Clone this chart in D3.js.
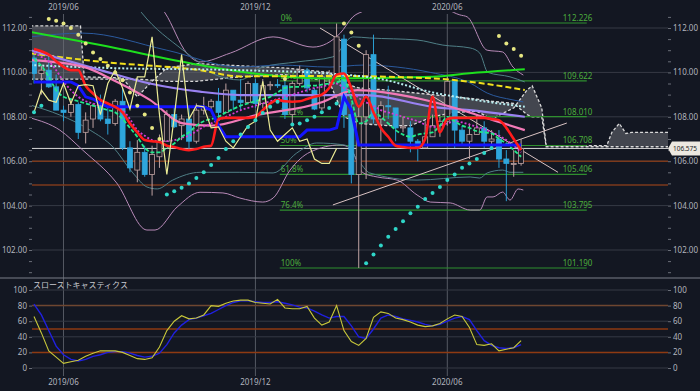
<!DOCTYPE html>
<html>
<head>
<meta charset="utf-8">
<script src="https://cdn.jsdelivr.net/npm/d3@7"></script>
<style>
  html, body { margin: 0; padding: 0; background: #131722; }
  svg { display: block; }
  text { font-family: "Noto Sans", "DejaVu Sans", sans-serif; }
</style>
</head>
<body>
<div id="chart"></div>
<script>
// weekly candles, first week 2019-05-06
const startWeek = '2019-05-06';
const opens = [110.65,109.95,110.1,109.35,108.3,108.2,108.55,107.3,107.9,108.5,107.9,107.7,108.7,106.6,105.6,106.4,105.4,106.2,106.9,108.1,107.6,107.9,106.9,108.3,108.45,108.7,108.2,109.2,108.75,108.65,109.5,108.6,109.4,109.45,109.4,108.1,109.5,110.1,109.2,108.4,109.8,109.8,111.5,108.1,105.4,108.0,110.8,107.9,108.5,108.4,107.5,107.5,106.9,106.6,107.1,107.6,107.8,109.6,107.4,106.9,107.2,107.5,106.9,107.0,106.1,105.9,105.9];
const highs = [110.9,110.3,110.7,109.9,108.5,108.8,108.65,108.2,108.6,109.0,108.4,108.8,109.3,106.9,106.95,106.7,106.7,107.2,108.3,108.5,108.1,108.5,108.6,108.9,108.8,109.3,109.5,109.2,109.7,109.6,109.7,109.7,109.6,109.7,109.7,109.6,110.3,110.2,109.3,110.0,110.1,112.2,111.7,108.6,108.5,111.0,111.7,108.7,109.4,108.4,108.0,107.8,107.0,107.8,108.1,108.0,109.85,109.7,107.6,107.7,108.1,107.8,107.4,107.4,106.5,106.5,107.0];
const lows = [109.5,109.0,109.3,108.3,107.8,108.0,107.0,106.8,107.5,107.8,107.2,107.6,106.5,105.5,105.05,105.3,104.45,105.7,106.9,107.5,106.95,106.5,106.8,108.1,108.3,107.9,108.2,108.3,108.3,108.6,108.4,108.4,109.2,109.3,107.9,107.65,109.4,109.1,108.3,108.3,109.5,109.7,107.5,105.0,101.19,105.2,107.7,106.9,107.9,106.9,107.3,106.4,106.0,106.6,107.1,107.1,107.6,106.6,106.7,106.1,107.2,106.6,106.7,105.7,104.2,105.3,105.8];
const closes = [109.95,110.1,109.35,108.3,108.2,108.55,107.3,107.85,108.5,107.9,107.7,108.7,106.6,105.7,106.4,105.4,106.3,106.9,108.1,107.55,107.9,106.9,108.3,108.45,108.7,108.2,109.2,108.75,108.65,109.5,108.6,109.4,109.45,109.4,108.1,109.5,110.1,109.3,108.35,109.8,109.8,111.6,108.1,105.4,108.0,110.8,107.9,108.5,108.45,107.5,107.55,106.9,106.6,107.1,107.6,107.8,109.6,107.4,106.9,107.2,107.5,106.9,107.0,106.1,105.9,105.9,106.575];
const lastPrice = 106.575;

// ichimoku (per week)
const tenkan = [111.05,110.95,110.8,110.5,110.25,110.1,110.1,109.4,109.05,108.76,108.6,108.45,108.2,107.7,107.3,106.95,106.9,106.86,106.7,106.64,106.55,106.5,106.55,106.65,106.7,107.9,107.95,107.95,107.95,107.95,108.0,108.3,108.6,108.76,108.7,108.68,108.7,108.8,108.9,109.0,109.3,109.9,109.95,109.3,108.45,108.9,108.2,107.5,107.1,106.7,106.64,106.6,106.6,107.0,108.9,107.3,107.9,107.95,107.95,107.95,107.95,107.95,107.9,107.85,107.5,107.0,106.5];
const kijun = [109.57,109.57,109.57,109.57,109.57,109.57,109.4,108.9,108.8,108.6,108.45,108.45,108.45,108.45,108.45,108.45,108.45,108.45,108.45,108.45,108.45,108.45,108.45,108.45,108.3,107.6,107.1,107.1,107.1,107.1,107.1,107.1,107.1,107.1,107.1,107.1,107.1,107.4,107.4,107.4,107.4,107.5,108.9,108.3,106.73,106.73,106.73,106.73,106.73,106.73,106.73,106.73,106.73,106.73,106.73,106.73,106.73,106.73,106.73,106.73,106.73,106.73,106.73,106.73,106.73,106.73,106.73];
const cloudIdx = [-0.5,6.3,6.8,12,14,16,18,22,28,34,40,42,44,48,51,54,57,60,62,65,66.8,67.5,68.8,69.4,74.5,77.6,78.3,79.3,80.2,81,87];
const cloudA = [109.7,109.7,109.7,109.7,109.7,109.65,109.6,109.6,109.8,109.9,109.6,108.0,107.7,107.6,107.6,108.0,108.2,108.25,107.9,108.4,109.2,109.4,108.4,106.7,106.7,106.7,107.3,107.7,107.25,107.3,107.3];
const cloudB = [112.1,112.1,109.8,109.75,108.9,109.6,110.2,110.4,110.3,110.2,110.0,109.5,109.3,109.2,109.1,109.0,108.9,108.8,108.7,108.6,108.1,108.0,108.0,106.65,106.65,106.65,106.65,106.65,106.65,106.65,106.65];
const chikouShift = 25;

// moving averages (per week)
const fastMA = [110.6,110.3,109.8,109.2,108.9,108.8,108.7,108.6,108.5,108.4,108.3,108.2,107.9,107.5,107.1,106.6,106.4,106.4,106.6,106.8,107.1,107.3,107.6,107.8,107.9,108.0,108.2,108.35,108.5,108.6,108.7,108.8,108.9,109.1,109.3,109.35,109.35,109.4,109.4,109.45,109.5,109.55,109.65,108.8,107.7,107.8,108.2,108.0,107.7,107.4,107.2,107.1,107.2,107.25,107.3,107.6,108.0,107.8,107.6,107.5,107.35,107.3,107.25,107.0,106.8,106.5,106.2];
const midMA = [110.9,110.7,110.5,110.1,109.6,109.2,108.9,108.7,108.6,108.5,108.5,108.45,108.3,107.9,107.4,107.15,106.95,106.9,106.9,106.95,107.05,107.15,107.35,107.55,107.7,107.85,108.0,108.15,108.3,108.4,108.5,108.6,108.7,108.8,108.9,109.0,109.1,109.2,109.3,109.35,109.45,109.5,109.3,109.15,108.85,108.65,108.5,108.3,108.2,108.1,108.0,107.9,107.8,107.65,107.55,107.6,107.7,107.8,107.75,107.65,107.55,107.45,107.3,107.15,106.95,106.7,106.4];
// long averages read at a few weeks: [week, price]
const greenMA = [[-0.5,111.82],[9,111.23],[22.5,110.33],[28,110.03],[40,109.73],[54,109.8],[59,109.96],[66.5,110.14]];
const yellowMA = [[-0.5,110.86],[9,110.48],[22.5,110.1],[28,109.82],[40,109.84],[54,109.73],[59,109.58],[66.5,109.21]];
const dottedMA = [[-0.5,110.33],[10,110.2],[28,110.1],[40,109.95],[47,109.7],[54,109.1],[59,108.8],[66.5,108.45]];
const lavenderMA = [[-0.5,111.0],[9,110.1],[15.7,109.5],[22.5,109.13],[28,108.98],[40,108.98],[45,108.98],[54,108.45],[59,108.3],[66.5,108.0]];
const pinkMA = [[-0.5,110.56],[6.6,110.26],[11.2,109.58],[15.7,108.76],[20.2,107.7],[24,107.6],[30.2,108.08],[39.2,108.68],[42.4,109.13],[43.8,109.2],[52.4,108.8],[58.7,108.23],[62.2,107.85],[66.5,107.4]];

// bands: [week, price]
const bbUpper2 = [[15.7,113.5],[17.75,112.68],[20.7,110.87],[22.5,110.47],[26.6,110.87],[32.4,111.6],[37.8,111.14],[41.5,111.77],[43.2,112.5],[44.9,112.8],[51,113.7],[57.7,112.59],[58.7,112.5],[61.4,111.0],[63.5,110.92],[64.9,110.24],[66.3,109.88]];
const bbUpper1 = [[13,113.4],[14.6,112.68],[20.2,111.0],[22.5,110.42],[24.5,109.9],[27.9,109.66],[31,110.24],[35.6,110.47],[40.5,110.7],[43.2,111.6],[45.5,111.55],[51.9,111.46],[55.4,111.23],[59.1,111.1],[60.4,110.87],[61.5,110.0],[64.5,109.8],[66.5,109.57]];
const blueBand = [[-0.5,111.6],[6.6,111.77],[18,111.0],[27.9,110.24],[33.3,110.33],[40.1,110.24],[44.6,110.33],[49.2,110.24],[53.7,110.0],[59.1,109.52],[61.4,109.07],[64.9,108.76],[66.3,108.67]];
const bbLower1 = [[-0.5,108.53],[3.5,108.08],[7.6,107.4],[10.7,106.64],[13.4,105.47],[15.3,104.84],[16.7,104.75],[18.8,105.15],[22.5,105.5],[27.9,105.5],[32.4,105.47],[35.6,106.37],[38.3,106.82],[42.1,106.73],[43.9,106.05],[45.5,105.47],[51.9,105.15],[59.1,105.29],[60.4,105.24],[61.4,105.47],[63.5,105.6],[64.5,105.5],[66.3,105.5]];
const bbLower2 = [[-0.5,107.95],[3.5,107.4],[6.6,106.5],[11.2,105.02],[15.3,102.9],[16.4,102.9],[19.4,103.94],[22.5,104.6],[25.6,104.57],[27.9,104.34],[31,104.16],[32.4,104.34],[34.7,105.6],[37.4,106.41],[41.5,106.73],[42.8,106.6],[44.6,105.47],[46.5,105.29],[49.2,105.15],[51.9,104.48],[53.7,104.16],[56.4,104.12],[59.1,103.8],[60.4,103.8],[61.4,104.39],[62.2,104.39],[63.5,104.61],[64.5,104.25],[65.6,104.75],[66.3,104.7]];

// parabolic SAR per week, side: 1 below price, -1 above
const sarVals = [108.2,108.5,112.4,112.33,112.2,112.0,111.7,111.3,110.9,110.6,110.3,110.0,109.65,109.1,108.5,108.1,107.5,107.0,104.5,104.65,104.8,105.0,105.24,105.5,105.83,106.14,106.55,106.9,107.2,107.54,107.85,108.17,108.45,108.68,109.7,107.65,107.7,107.85,108.0,108.2,108.4,108.6,112.2,111.8,111.2,101.4,101.8,102.2,102.6,102.95,103.3,103.65,103.95,104.3,104.57,104.84,105.15,105.4,105.7,105.9,106.1,106.37,106.6,111.64,111.3,111.05,110.75];
const sarSide = [1,1,-1,-1,-1,-1,-1,-1,-1,-1,-1,-1,-1,-1,-1,-1,-1,-1,1,1,1,1,1,1,1,1,1,1,1,1,1,1,1,1,-1,1,1,1,1,1,1,1,-1,-1,-1,1,1,1,1,1,1,1,1,1,1,1,1,1,1,1,1,1,1,-1,-1,-1,-1];

// fibonacci retracement
const fibLabels = ['0%', '23.6%', '38.2%', '50%', '61.8%', '76.4%', '100%'];
const fibValues = [112.226, 109.622, 108.010, 106.708, 105.406, 103.795, 101.190];
const fibFrom = 33.3, fibTo = 74.9;

// drawn lines: [week1, price1, week2, price2]
const trendLines = [[38.75,112.0,71,105.5],[40.5,104.03,72.2,107.72]];
const levelLines = [106.0, 104.93];

// slow stochastics
const stochK = [66,45,22,14,6,8,10,15,19,22,22,22,20,16,12,11,13,27,48,60,67,63,64,68,80,79,83,86,87,87,84,83,82,88,77,76,76,79,64,55,59,80,48,34,29,38,65,72,70,64,62,59,55,53,54,57,63,68,66,52,30,29,31,22,24,26,35];
const stochD = [82,68,48,28,17,11,9,11,15,17,20,21,21,19,16,14,15,19,30,45,55,62,64,67,70,75,80,84,86,86,85,84,84,85,83,81,78,77,73,68,64,66,66,54,40,38,50,64,68,66,63,61,59,56,54,56,60,64,66,62,48,35,29,26,25,26,30];
const stochLevels = [0, 20, 40, 60, 80, 100];
const stochMarks = [20, 50, 80];
const priceTicks = [102, 104, 106, 108, 110, 112];

const W = 700, H = 391;
const mLeft = 32, mRight = 668, mTop = 12, mainBottom = 278;

const svg = d3.select('#chart').append('svg').attr('width', W).attr('height', H);
svg.append('rect').attr('width', W).attr('height', H).attr('fill', '#131722');

const x = d3.scaleLinear().domain([0, 66]).range([34, 521.1]);
const y = d3.scaleLinear().domain([102, 112]).range([250, 28]);
const ys = d3.scaleLinear().domain([0, 100]).range([368, 290]);

const weekDate = i => d3.timeWeek.offset(new Date(startWeek + 'T00:00:00'), i);
const monthTicks = d3.range(opens.length).filter(i => {
  const d = weekDate(i), p = weekDate(i - 1);
  return d.getMonth() !== p.getMonth() && (d.getMonth() === 5 || d.getMonth() === 11);
});
const fmtMonth = d3.timeFormat('%Y/%m');

svg.append('clipPath').attr('id', 'clipMain').append('rect')
  .attr('x', mLeft).attr('y', mTop).attr('width', mRight - mLeft).attr('height', mainBottom - mTop);

// grid
const grid = svg.append('g');
grid.selectAll('.hg').data(priceTicks).join('line')
  .attr('x1', mLeft).attr('x2', mRight).attr('y1', d => y(d)).attr('y2', d => y(d))
  .attr('stroke', '#363a45').attr('stroke-width', 1);
grid.selectAll('.vg').data(monthTicks).join('line')
  .attr('x1', d => x(d)).attr('x2', d => x(d)).attr('y1', 14).attr('y2', 376)
  .attr('stroke', '#555963').attr('stroke-width', 1);
grid.append('line').attr('x1', 0).attr('x2', W).attr('y1', mainBottom).attr('y2', mainBottom)
  .attr('stroke', '#7a7e88').attr('stroke-width', 1.2);

const main = svg.append('g').attr('clip-path', 'url(#clipMain)');

// ichimoku cloud
const cloudData = cloudIdx.map((d, i) => ({ i: d, a: cloudA[i], b: cloudB[i] }));
main.append('path').datum(cloudData)
  .attr('d', d3.area().x(d => x(d.i)).y0(d => y(d.a)).y1(d => y(d.b)))
  .attr('fill', '#6b6d74').attr('opacity', 0.55);
['a', 'b'].forEach(k => {
  main.append('path').datum(cloudData)
    .attr('d', d3.line().x(d => x(d.i)).y(d => y(d[k])))
    .attr('fill', 'none').attr('stroke', '#d8d8d8').attr('stroke-width', 1.3)
    .attr('stroke-dasharray', '3,2');
});

// level lines
main.selectAll('.lvl').data(levelLines).join('line')
  .attr('x1', mLeft).attr('x2', mRight).attr('y1', d => y(d)).attr('y2', d => y(d))
  .attr('stroke', '#7c3a1c').attr('stroke-width', 1.5);
main.append('line').attr('x1', mLeft).attr('x2', mRight)
  .attr('y1', y(lastPrice)).attr('y2', y(lastPrice))
  .attr('stroke', '#d8d8d8').attr('stroke-width', 1);

// fibonacci
const fib = main.append('g');
fibValues.forEach((v, k) => {
  fib.append('line').attr('x1', x(fibFrom)).attr('x2', x(fibTo))
    .attr('y1', y(v)).attr('y2', y(v)).attr('stroke', '#2f8f2f').attr('stroke-width', 1.2);
  fib.append('text').attr('x', x(fibFrom) + 1).attr('y', y(v) - 2)
    .attr('fill', '#4cae3c').attr('font-size', 8).text(fibLabels[k]);
  fib.append('text').attr('x', x(fibTo) - 24).attr('y', y(v) - 2)
    .attr('fill', '#4cae3c').attr('font-size', 8).text(d3.format('.3f')(v));
});

// bands
const kp = d3.line().x(d => x(d[0])).y(d => y(d[1])).curve(d3.curveMonotoneX);
[[bbUpper2, '#b88ab8'], [bbLower2, '#b88ab8'], [bbUpper1, '#4f7f86'], [bbLower1, '#4f7f86'], [blueBand, '#2b5a9e']]
  .forEach(([d, c]) => main.append('path').datum(d).attr('d', kp)
    .attr('fill', 'none').attr('stroke', c).attr('stroke-width', 1));

// trend lines
main.selectAll('.tl').data(trendLines).join('line')
  .attr('x1', d => x(d[0])).attr('y1', d => y(d[1]))
  .attr('x2', d => x(d[2])).attr('y2', d => y(d[3]))
  .attr('stroke', '#d9c3c3').attr('stroke-width', 1);

// candles
const cw = 5;
const candles = main.selectAll('.c').data(opens.map((o, i) => ({
  i, o, h: highs[i], l: lows[i], c: closes[i],
}))).join('g');
candles.append('line')
  .attr('x1', d => x(d.i)).attr('x2', d => x(d.i))
  .attr('y1', d => y(d.h)).attr('y2', d => y(d.l))
  .attr('stroke', d => d.c >= d.o ? '#bfa3a3' : '#2a9fd4').attr('stroke-width', 1);
candles.append('rect')
  .attr('x', d => x(d.i) - cw / 2).attr('width', cw)
  .attr('y', d => y(Math.max(d.o, d.c)))
  .attr('height', d => Math.max(1, Math.abs(y(d.o) - y(d.c))))
  .attr('fill', d => d.c >= d.o ? '#1c1b24' : '#2ea6dc')
  .attr('stroke', d => d.c >= d.o ? '#bfa3a3' : '#2ea6dc').attr('stroke-width', 0.8);

// moving averages
const pl = d3.line().x((d, i) => x(i)).y(d => y(d));
[[greenMA, '#1ee01e', 2, null], [yellowMA, '#f2e01c', 2, '6,3'], [dottedMA, '#b8eef0', 2, '2,2'],
 [lavenderMA, '#9a82f2', 2.2, null], [pinkMA, '#f27ab8', 2.2, null]]
  .forEach(([d, c, w, dash]) => main.append('path').datum(d).attr('d', kp)
    .attr('fill', 'none').attr('stroke', c).attr('stroke-width', w)
    .attr('stroke-dasharray', dash));
main.append('path').datum(midMA).attr('d', pl.curve(d3.curveMonotoneX))
  .attr('fill', 'none').attr('stroke', '#d43cd4').attr('stroke-width', 1.8).attr('stroke-dasharray', '2,2');
main.append('path').datum(fastMA).attr('d', pl.curve(d3.curveMonotoneX))
  .attr('fill', 'none').attr('stroke', '#22e88c').attr('stroke-width', 1.8).attr('stroke-dasharray', '4,2');
main.append('path').datum(kijun).attr('d', pl.curve(d3.curveLinear))
  .attr('fill', 'none').attr('stroke', '#1414ff').attr('stroke-width', 3);
main.append('path').datum(tenkan).attr('d', pl.curve(d3.curveMonotoneX))
  .attr('fill', 'none').attr('stroke', '#ff1c1c').attr('stroke-width', 2.6);

// lagging span
const chikou = closes.slice(chikouShift);
main.append('path').datum(chikou).attr('d', pl.curve(d3.curveLinear))
  .attr('fill', 'none').attr('stroke', '#ecec96').attr('stroke-width', 1.2);

// SAR
main.selectAll('.sar').data(sarVals).join('circle')
  .attr('cx', (d, i) => x(i)).attr('cy', d => y(d)).attr('r', 2)
  .attr('fill', (d, i) => sarSide[i] > 0 ? '#2fd6c8' : '#e6e682');

// price axes
const minor = d3.range(101, 112.6, 0.5);
const lab = d => priceTicks.includes(d) ? d3.format('.2f')(d) : '';
function styleAxis(g) {
  g.select('.domain').remove();
  g.selectAll('line').attr('stroke', '#6a6e78');
  g.selectAll('text').attr('fill', '#b2b5be').attr('font-size', 8);
}
svg.append('g').attr('transform', `translate(${mRight},0)`)
  .call(d3.axisRight(y).tickValues(minor).tickSize(3).tickPadding(2).tickFormat(lab)).call(styleAxis);
svg.append('g').attr('transform', `translate(${mLeft},0)`)
  .call(d3.axisLeft(y).tickValues(minor).tickSize(3).tickPadding(2).tickFormat(lab)).call(styleAxis);

// last price tag
const ty = y(lastPrice);
svg.append('path')
  .attr('d', `M${mRight},${ty} L${mRight + 4},${ty - 7} L${W},${ty - 7} L${W},${ty + 7} L${mRight + 4},${ty + 7} Z`)
  .attr('fill', '#ece8e0');
svg.append('text').attr('x', mRight + 5).attr('y', ty + 3).attr('fill', '#222').attr('font-size', 7.5)
  .attr('textLength', 24).attr('lengthAdjust', 'spacingAndGlyphs')
  .text(d3.format('.3f')(lastPrice));

// date labels
[10, 385].forEach(yy => {
  svg.selectAll(null).data(monthTicks).join('text')
    .attr('x', d => x(d)).attr('y', yy).attr('text-anchor', 'middle')
    .attr('fill', '#b2b5be').attr('font-size', 8).text(d => fmtMonth(weekDate(d)));
});

// stochastics panel
const st = svg.append('g');
st.selectAll('.sg').data(stochLevels).join('line')
  .attr('x1', mLeft).attr('x2', mRight).attr('y1', d => ys(d)).attr('y2', d => ys(d))
  .attr('stroke', '#363a45');
st.selectAll('.sm').data(stochMarks).join('line')
  .attr('x1', mLeft).attr('x2', mRight).attr('y1', d => ys(d)).attr('y2', d => ys(d))
  .attr('stroke', d => d === 80 ? '#6e4630' : '#8e3a12').attr('stroke-width', 1.5);
const sl = d3.line().x((d, i) => x(i)).y(d => ys(d));
st.append('path').datum(stochD).attr('d', sl).attr('fill', 'none').attr('stroke', '#2020e0').attr('stroke-width', 1.4);
st.append('path').datum(stochK).attr('d', sl).attr('fill', 'none').attr('stroke', '#c8c83a').attr('stroke-width', 1.1);
svg.append('g').attr('transform', `translate(${mRight},0)`)
  .call(d3.axisRight(ys).tickValues(stochLevels).tickSize(3).tickPadding(2)).call(styleAxis);
svg.append('g').attr('transform', `translate(${mLeft},0)`)
  .call(d3.axisLeft(ys).tickValues(stochLevels).tickSize(3).tickPadding(2)).call(styleAxis);
svg.append('text').attr('x', 33).attr('y', 288).attr('fill', '#c8cad0').attr('font-size', 8)
  .style('font-family', '"Noto Sans CJK JP", sans-serif').text('スローストキャスティクス');
</script>
</body>
</html>
